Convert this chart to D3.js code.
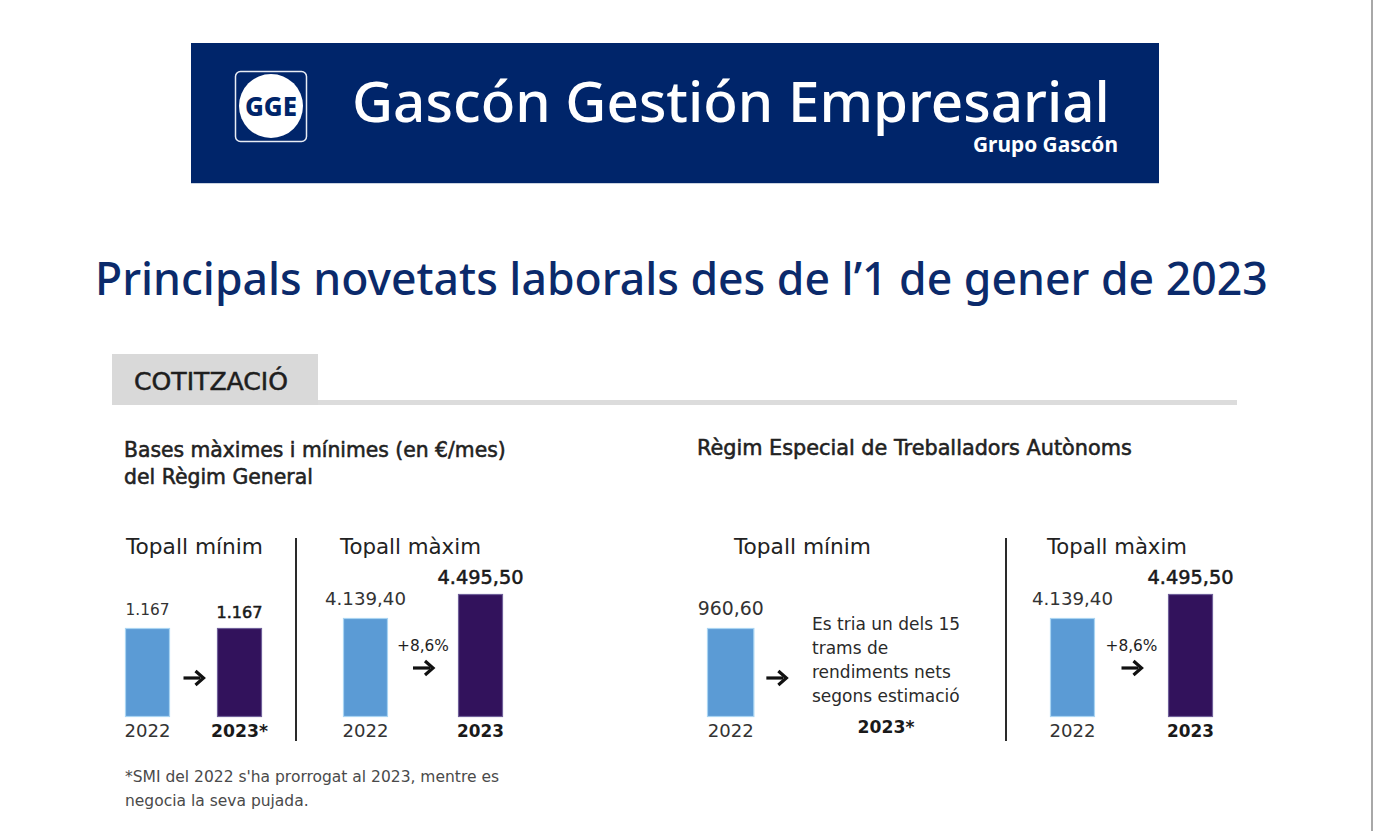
<!DOCTYPE html>
<html>
<head>
<meta charset="utf-8">
<script src="https://cdn.jsdelivr.net/npm/d3@7"></script>
<style>
  html, body { margin: 0; padding: 0; background: #ffffff; }
  svg { display: block; }
</style>
</head>
<body>
<svg id="chart" width="1374" height="831"></svg>
<script>
// ---------------- DATA ----------------
const years = ["2022", "2023"];
const panelTitles = ["Topall mínim", "Topall màxim", "Topall mínim", "Topall màxim"];
const generalMin = [1167, 1167];
const generalMax = [4139.40, 4495.50];
const autonomMin = [960.60];
const autonomMax = [4139.40, 4495.50];
const changeLabels = ["", "+8,6%", "", "+8,6%"];
const yearLabels = [["2022", "2023*"], ["2022", "2023"], ["2022", "2023*"], ["2022", "2023"]];
const autonomMinNote = ["Es tria un dels 15", "trams de", "rendiments nets", "segons estimació"];
const footnote = ["*SMI del 2022 s'ha prorrogat al 2023, mentre es", "negocia la seva pujada."];

// ---------------- SETUP ----------------
const svg = d3.select("#chart");
const W = 1374, H = 831;
const NAVY = "#00256a";
const BLUE = "#5b9bd5", BLUE_EDGE = "#a9d4f2";
const PURPLE = "#32125c", PURPLE_EDGE = "#6f5f99";
const BODY = "'DejaVu Sans', 'Noto Sans', sans-serif";
const HEAD = "'Noto Sans', 'Open Sans', sans-serif";

const loc = d3.formatLocale({ decimal: ",", thousands: ".", grouping: [3], currency: ["", "€"] });
const fmt = v => Number.isInteger(v) ? loc.format(",.0f")(v) : loc.format(",.2f")(v);

// fit helper: scale font size so that text spans target width
function fit(sel, target) {
  const node = sel.node();
  const fs = parseFloat(sel.attr("font-size"));
  const w = node.getComputedTextLength();
  if (w > 0) sel.attr("font-size", (fs * target / w).toFixed(2));
  return sel;
}
function txt(x, y, s, opts = {}) {
  const t = svg.append("text")
    .attr("x", x).attr("y", y)
    .attr("font-family", opts.family || BODY)
    .attr("font-size", opts.size || 16)
    .attr("font-weight", opts.weight || 400)
    .attr("fill", opts.fill || "#222")
    .attr("text-anchor", opts.anchor || "start")
    .text(s);
  if (opts.semi) t.attr("stroke", opts.fill || "#222").attr("stroke-width", 0.55);
  if (opts.fit) fit(t, opts.fit);
  return t;
}

// page background & right edge line
svg.append("rect").attr("width", W).attr("height", H).attr("fill", "#fff");
svg.append("line").attr("x1", 1372).attr("x2", 1372).attr("y1", 0).attr("y2", H)
  .attr("stroke", "#a8a8a8").attr("stroke-width", 2);

// ---------------- BANNER ----------------
svg.append("rect").attr("x", 191).attr("y", 43).attr("width", 968).attr("height", 140)
  .attr("fill", NAVY);
svg.append("line").attr("x1", 191).attr("x2", 1159).attr("y1", 183.5).attr("y2", 183.5)
  .attr("stroke", "#c9d2e0").attr("stroke-width", 1);
svg.append("rect").attr("x", 235.5).attr("y", 71.5).attr("width", 71).attr("height", 70)
  .attr("rx", 5).attr("fill", "none").attr("stroke", "#e8ecf4").attr("stroke-width", 1.5);
svg.append("circle").attr("cx", 271).attr("cy", 106).attr("r", 32).attr("fill", "#fff");
txt(271, 116, "GGE", { family: HEAD, size: 28, weight: 800, fill: NAVY, anchor: "middle", fit: 52 });
txt(352, 122, "Gascón Gestión Empresarial", { family: HEAD, size: 56, weight: 500, fill: "#fff", fit: 758 });
txt(973, 152, "Grupo Gascón", { family: HEAD, size: 20, weight: 700, fill: "#fff", fit: 145 });

// ---------------- TITLE ----------------
txt(95, 295, "Principals novetats laborals des de l’1 de gener de 2023",
  { family: HEAD, size: 40, weight: 500, fill: "#0b2a6b", fit: 1173 });

// ---------------- SECTION HEADER ----------------
svg.append("rect").attr("x", 112).attr("y", 354).attr("width", 206).attr("height", 51).attr("fill", "#d9d9d9");
svg.append("rect").attr("x", 318).attr("y", 400).attr("width", 919).attr("height", 5).attr("fill", "#dcdcdc");
txt(134, 390, "COTITZACIÓ", { size: 19, weight: 400, fill: "#1e1e1e", fit: 154, semi: true });

txt(124, 457, "Bases màximes i mínimes (en €/mes)", { size: 17, weight: 400, fill: "#222", fit: 382, semi: true });
txt(124, 484, "del Règim General", { size: 17, weight: 400, fill: "#222", fit: 189, semi: true });
txt(697, 455, "Règim Especial de Treballadors Autònoms", { size: 17, weight: 400, fill: "#222", fit: 435, semi: true });

// ---------------- PANELS ----------------
const baseY = 717;
const panels = [
  { title: panelTitles[0], titleX: 126, titleW: 137, values: generalMin, range: [125, 262], minH: 0, hMax: 89, years: yearLabels[0], change: changeLabels[0] },
  { title: panelTitles[1], titleX: 340, titleW: 141, values: generalMax, range: [343, 503], minH: 2670, hMax: 123, years: yearLabels[1], change: changeLabels[1] },
  { title: panelTitles[2], titleX: 734, titleW: 137, values: autonomMin, range: [707, 853], minH: 0, hMax: 89, years: yearLabels[2], change: changeLabels[2], note: autonomMinNote },
  { title: panelTitles[3], titleX: 1047, titleW: 140, values: autonomMax, range: [1050, 1213], minH: 2670, hMax: 123, years: yearLabels[3], change: changeLabels[3] }
];

function arrow(cx, cy) {
  const g = svg.append("g").attr("transform", `translate(${cx},${cy})`);
  g.append("line").attr("x1", -10).attr("x2", 7).attr("y1", 0).attr("y2", 0)
    .attr("stroke", "#111").attr("stroke-width", 3.2);
  g.append("path").attr("d", "M2,-7 L10,0 L2,7").attr("fill", "none")
    .attr("stroke", "#111").attr("stroke-width", 3.2).attr("stroke-linejoin", "miter");
}

panels.forEach((p, pi) => {
  txt(p.titleX, 554, p.title, { size: 18, weight: 400, fill: "#222", fit: p.titleW });

  const x = d3.scaleBand().domain(years).range(p.range).paddingInner(
    pi === 0 ? 0.511 : pi === 1 ? 0.609 : pi === 2 ? 0.52 : 0.619).paddingOuter(0);
  const maxV = d3.max(p.values);
  const y = d3.scaleLinear().domain([p.minH, maxV]).range([baseY, baseY - p.hMax]);

  const data = p.values.map((v, i) => ({ year: years[i], v, i }));
  svg.append("g").selectAll("rect").data(data).join("rect")
    .attr("x", d => x(d.year) + 0.5)
    .attr("y", d => y(d.v) + 0.5)
    .attr("width", x.bandwidth() - 1)
    .attr("height", d => baseY - y(d.v) - 1)
    .attr("fill", d => d.i === 0 ? BLUE : PURPLE)
    .attr("stroke", d => d.i === 0 ? BLUE_EDGE : PURPLE_EDGE)
    .attr("stroke-width", 1.2);

  data.forEach(d => {
    const cx = x(d.year) + x.bandwidth() / 2;
    const lab = fmt(d.v);
    const w = lab.length > 6 ? (d.i === 0 ? 81 : 86) : lab.length === 6 ? 66 : (d.i === 0 ? 44 : 46);
    txt(cx, y(d.v) - (d.i === 0 ? 13 : 10), lab,
      { size: 18, weight: 400, fill: d.i === 0 ? "#333" : "#1a1a1a", anchor: "middle", fit: w, semi: d.i === 1 });
    txt(cx, 737, p.years[d.i],
      { size: 18, weight: d.i === 0 ? 400 : 700, fill: d.i === 0 ? "#333" : "#1a1a1a", anchor: "middle", fit: d.i === 0 ? 46 : (p.years[d.i].length > 4 ? 57 : 47) });
  });

  if (p.values.length === 2) {
    const gapMid = (x(years[0]) + x.bandwidth() + x(years[1])) / 2;
    if (p.change) {
      txt(gapMid, 651, p.change, { size: 15, weight: 400, fill: "#1e1e1e", anchor: "middle", fit: 52 });
      arrow(gapMid, 668);
    } else {
      arrow(gapMid, 678);
    }
  } else {
    const bx = x(years[0]) + x.bandwidth();
    arrow(bx + 22, 678);
    p.note.forEach((line, li) => {
      txt(812, 630 + li * 24, line, { size: 17, weight: 400, fill: "#2a2a2a" });
    });
    txt(886, 733, p.years[1], { size: 18, weight: 700, fill: "#1a1a1a", anchor: "middle", fit: 57 });
  }
});

// dividers
[296, 1006].forEach(xv => {
  svg.append("line").attr("x1", xv).attr("x2", xv).attr("y1", 538).attr("y2", 741)
    .attr("stroke", "#2a2a2a").attr("stroke-width", 2);
});

// ---------------- FOOTNOTE ----------------
const fn1 = txt(125, 782, footnote[0], { size: 14, weight: 400, fill: "#4a4a4a", fit: 374 });
txt(125, 806, footnote[1], { size: +fn1.attr("font-size"), weight: 400, fill: "#4a4a4a" });
</script>
</body>
</html>
